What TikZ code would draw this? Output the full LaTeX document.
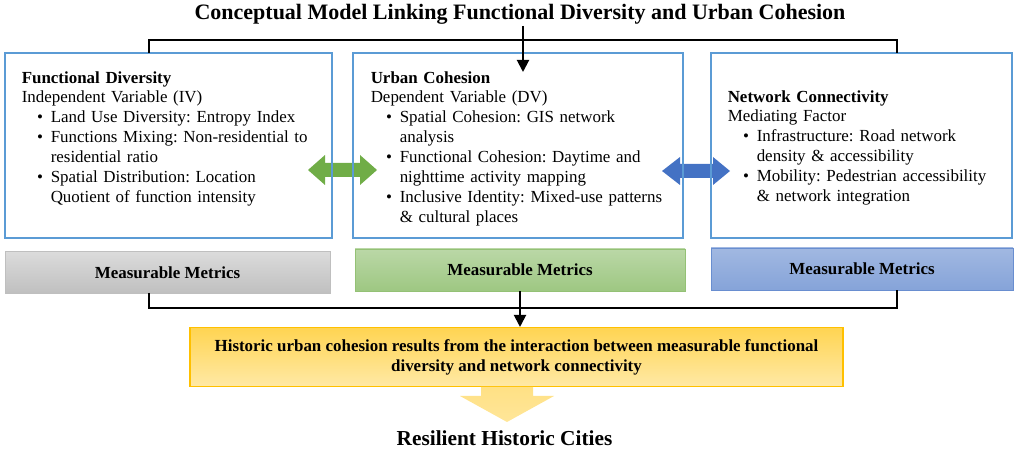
\documentclass[tikz,border=0pt]{standalone}
\usepackage{fontspec}
\setmainfont{Liberation Serif}
\usepackage{enumitem}
\setlist[itemize]{nosep,leftmargin=21.75pt,labelsep=5.8pt,label=\textbullet}
\setlength{\parindent}{0pt}
\frenchspacing
\usetikzlibrary{arrows.meta}

\definecolor{frameblue}{HTML}{5B9BD5}
\definecolor{arrowgreen}{HTML}{70AD47}
\definecolor{arrowblue}{HTML}{4472C4}
\definecolor{goldline}{HTML}{FFC000}

\tikzset{
  varbox/.style={draw=frameblue, line width=1pt, minimum height=138.75pt, inner sep=0pt},
  vartext/.style={anchor=north west, inner sep=0pt, text width=240pt,
    font=\fontsize{12.7}{14.9}\selectfont\raggedright},
  metricbox/.style={minimum height=31.5pt, line width=0.6pt, inner sep=0pt,
    font=\bfseries\fontsize{12.7}{15}\selectfont},
  link/.style={line width=1.5pt},
  linkarrow/.style={link, -{Triangle[width=9pt,length=9pt]}},
}

\begin{document}
\begin{tikzpicture}[x=0.75pt,y=-0.75pt]
  \useasboundingbox (0,0) rectangle (1018,452);

  \node[inner sep=1pt, anchor=base, font=\bfseries\fontsize{16.5}{18}\selectfont] (title) at (520,19.5)
    {Conceptual Model Linking Functional Diversity and Urban Cohesion};

  % double arrows between the boxes
  \fill[arrowgreen] (308,170) -- (325,155) -- (325,163) -- (360,163) -- (360,155)
    -- (377,170) -- (360,185) -- (360,177) -- (325,177) -- (325,185) -- cycle;
  \fill[arrowblue] (662,171) -- (680,157) -- (680,164) -- (713,164) -- (713,157)
    -- (730,171) -- (713,185) -- (713,178) -- (680,178) -- (680,185) -- cycle;

  % variable boxes
  \node[varbox, minimum width=245.25pt] (fd) at (168.5,145.5) {};
  \node[varbox, minimum width=247.5pt] (uc) at (518,145.5) {};
  \node[varbox, minimum width=225.75pt] (nc) at (861.5,145.5) {};

  \node[vartext] (fdtext) at (21.5,71) {\textbf{Functional Diversity}\newline
    Independent Variable (IV)
    \begin{itemize}
      \item Land Use Diversity: Entropy Index
      \item Functions Mixing: Non-residential to\newline residential ratio
      \item Spatial Distribution: Location\newline Quotient of function intensity
    \end{itemize}};
  \node[vartext] (uctext) at (370.5,71) {\textbf{Urban Cohesion}\newline
    Dependent Variable (DV)
    \begin{itemize}
      \item Spatial Cohesion: GIS network\newline analysis
      \item Functional Cohesion: Daytime and\newline nighttime activity mapping
      \item Inclusive Identity: Mixed-use patterns\newline \& cultural places
    \end{itemize}};
  \node[vartext] (nctext) at (727.5,90) {\textbf{Network Connectivity}\newline
    Mediating Factor
    \begin{itemize}
      \item Infrastructure: Road network\newline density \& accessibility
      \item Mobility: Pedestrian accessibility\newline \& network integration
    \end{itemize}};

  % top bracket and arrow
  \coordinate (topbar) at (520,40);
  \coordinate (fdjoin) at (149,53);
  \coordinate (ncjoin) at (897,53);
  \coordinate (uctip) at (523,72);
  \draw[link] (fdjoin) -- (fdjoin |- topbar) -- (ncjoin |- topbar) -- (ncjoin);
  \draw[linkarrow] (title.south -| uctip) -- (uctip);

  % metrics
  \node[metricbox, draw=black!25, top color=black!14, bottom color=black!25,
    minimum width=243.75pt] (mmgray) at (167.5,272.5) {Measurable Metrics};
  \node[metricbox, draw=arrowgreen!75, top color=arrowgreen!48, bottom color=arrowgreen!68,
    minimum width=247.5pt] (mmgreen) at (520,270) {Measurable Metrics};
  \node[metricbox, draw=arrowblue!80, top color=arrowblue!50, bottom color=arrowblue!65,
    minimum width=226.5pt] (mmblue) at (862,269) {Measurable Metrics};

  \coordinate (lowbar) at (517,308);
  \coordinate (grayjoin) at (149,293);
  \coordinate (bluejoin) at (897,290);
  \draw[link] (grayjoin) -- (grayjoin |- lowbar) -- (bluejoin |- lowbar) -- (bluejoin);

  \node[draw=goldline, line width=0.8pt, top color=goldline!68, bottom color=goldline!35,
    minimum width=489.75pt, minimum height=44.25pt, align=center, inner sep=0pt,
    font=\bfseries\fontsize{12.7}{15}\selectfont] (result) at (516.5,357)
    {Historic urban cohesion results from the interaction between measurable functional\\
     diversity and network connectivity};
  \draw[linkarrow] (mmgreen.south) -- (mmgreen.south |- result.north);

  % block arrow down
  \shade[top color=goldline!48, bottom color=goldline!40] (481,387) -- (533,387) -- (533,396)
    -- (554,396) -- (507,422) -- (460,396) -- (481,396) -- cycle;

  \node[font=\bfseries\fontsize{16}{18}\selectfont] (resilient) at (504.5,438) {Resilient Historic Cities};
\end{tikzpicture}
\end{document}
